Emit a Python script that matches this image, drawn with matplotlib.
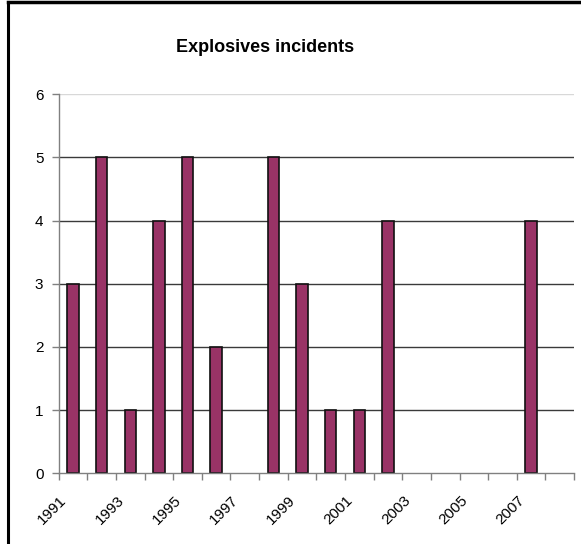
import numpy as np
import matplotlib
matplotlib.use('Agg')
import matplotlib.pyplot as plt
from matplotlib.lines import Line2D

plt.rcParams['font.family'] = ['Liberation Sans', 'DejaVu Sans']

years = list(range(1991, 2009))
incidents = [3, 5, 1, 4, 5, 2, 0, 5, 3, 1, 1, 4, 0, 0, 0, 0, 4, 0]
yticks = [0, 1, 2, 3, 4, 5, 6]
title = 'Explosives incidents'

fig = plt.figure(figsize=(5.81, 5.44), dpi=100)
ax = fig.add_axes([0.101, 0.130, 0.887, 0.697])

x = np.arange(len(years))
# no outline on empty years
edge_w = [1.2 if v > 0 else 0 for v in incidents]
ax.bar(x, incidents, width=0.4, color='#993366', edgecolor='#111111', linewidth=edge_w, zorder=3)

ax.set_xlim(-0.5, len(years) - 0.5)
ax.set_ylim(0, 6)

# gridlines
for v in yticks[1:]:
    c = '#d8d8d8' if v == 6 else '#3a3a3a'
    ax.axhline(v, color=c, linewidth=1, zorder=1)

ax.set_yticks(yticks)
ax.set_yticklabels([str(v) for v in yticks], fontsize=11)
ax.tick_params(axis='y', direction='out', length=5, width=1, color='#808080', pad=6)

# category boundaries get tick marks, labels every other year
ax.set_xticks(np.arange(-0.5, len(years), 1.0), minor=True)
ax.set_xticks(x[::2] - 0.3)
ax.set_xticklabels([str(y) for y in years[::2]], fontsize=11, rotation=45,
                   ha='right', va='center', rotation_mode='anchor')
ax.tick_params(axis='x', which='major', length=0, pad=18)
ax.tick_params(axis='x', which='minor', direction='out', length=5, width=1, color='#808080')

for s in ['top', 'right']:
    ax.spines[s].set_visible(False)
for s in ['left', 'bottom']:
    ax.spines[s].set_color('#808080')
    ax.spines[s].set_linewidth(1)
    ax.spines[s].set_zorder(4)

fig.text(0.457, 0.904, title, fontsize=13, fontweight='bold', ha='center', va='baseline')

# chart border (left and top edges visible)
fig.add_artist(Line2D([7.5 / 581, 7.5 / 581], [0, 1 - 1.5 / 544], color='black', linewidth=2.2,
                      transform=fig.transFigure))
fig.add_artist(Line2D([7.5 / 581, 1], [1 - 1.5 / 544, 1 - 1.5 / 544], color='black', linewidth=2.5,
                      transform=fig.transFigure))

fig.savefig('out.png', dpi=100)
